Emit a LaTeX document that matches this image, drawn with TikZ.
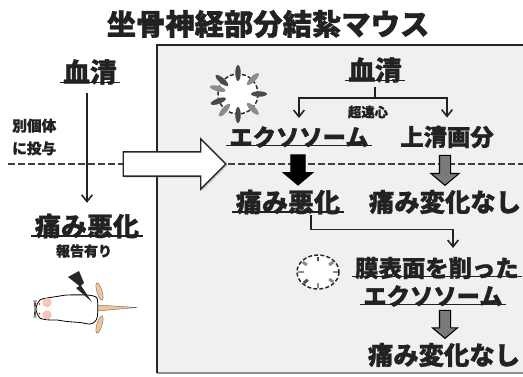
\documentclass[tikz,border=0pt]{standalone}
\usepackage{fontspec}
\setmainfont{Noto Sans CJK JP}[BoldFeatures={FakeBold=1.2}]
\usepackage{tikz}
\usetikzlibrary{arrows.meta,positioning,calc,shapes.arrows,shadows}
\usepackage{xcolor}
\definecolor{InkGray}{HTML}{222222}
\definecolor{PanelGray}{HTML}{F0F0F0}
\definecolor{ArrowGray}{HTML}{7A7A7A}
\definecolor{SpikeDark}{HTML}{4A4A4A}
\definecolor{SpikeLight}{HTML}{8C8C8C}
\definecolor{MouseTan}{HTML}{F3C49A}
\definecolor{EarPink}{HTML}{F7C3CE}

\begin{document}
\begin{tikzpicture}[x=0.75pt,y=-0.75pt,
  txt/.style={text=InkGray,inner xsep=2.5pt,inner ysep=0pt,font=\fontsize{#1}{#1}\selectfont\bfseries},
  uline/.style={append after command={([yshift=2pt]\tikzlastnode.south west) edge[draw=InkGray,line width=1.1pt] ([yshift=2pt]\tikzlastnode.south east)}},
  conn/.style={draw=InkGray,solid,line width=1.2pt,-{Straight Barb[length=5pt,width=8pt]}},
  downarrow/.style={single arrow,draw=black,line width=0.8pt,inner xsep=0pt,rotate=-90,
    minimum height=22.5pt,single arrow tip angle=100},
  spike/.style={fill=#1}]

\useasboundingbox (0,0) rectangle (523,376);
\fill[white] (0,0) rectangle (523,376);

% panel for the exosome experiment
\fill[PanelGray] (157,45) rectangle (523,373);
\draw[black!45,line width=0.8pt] (157,373) -- (523,373);
\draw[black!85,line width=0.9pt] (157,373) -- (157,45) -- (523,45);

\draw[black!75,line width=1pt,dash pattern=on 5pt off 2.5pt] (8,164) -- (523,164);

\node[txt=22] (title) at (268,24) {坐骨神経部分結紮マウス};

% left: serum transfer
\node[txt=20,uline] (serumL) at (90,72) {血清};
\node[txt=19.5,uline] (painL) at (87,226) {痛み悪化};
\node[txt=10.5] (report) at (84,251) {報告有り};
\node[text=InkGray,inner sep=0pt,align=left,anchor=west,font=\fontsize{11}{17}\selectfont\bfseries] (give) at (12,137) {別個体\\に投与};
\draw[conn,shorten <=6pt,shorten >=8pt] (painL.north |- serumL.south) -- (painL.north);

\node[single arrow,draw=black!85,fill=white,line width=1pt,inner xsep=0pt,inner ysep=8.6pt,
  minimum height=77pt,single arrow head extend=9.75pt,single arrow tip angle=90,
  drop shadow={opacity=0.3,shadow xshift=1.2pt,shadow yshift=-1.2pt}] (move) at (168.5,164) {};

% right: exosome vs supernatant
\node[txt=20,uline] (serumR) at (375,70) {血清};
\node[txt=17.5,uline] (exo) at (299,137) {エクソソーム};
\node[txt=17.5] (sup) at (447,137) {上清画分};
\node[txt=10] (ultra) at (368,112) {超遠心};
\coordinate (fork) at ($(serumR.south)+(0,15)$);
\draw[InkGray,line width=1.2pt,shorten <=3pt] (serumR.south) -- (fork);
\draw[conn,shorten >=6pt] (fork) -| (exo.north);
\draw[conn,shorten >=6pt] (fork) -| (sup.north);

\node[downarrow,fill=black,inner ysep=4.9pt,single arrow head extend=5.6pt] (worse) at (298,167) {};
\node[downarrow,fill=ArrowGray,inner ysep=3.75pt,single arrow head extend=6.4pt] (same1) at (445,168) {};

\node[txt=19.5,uline] (painR) at (288,202) {痛み悪化};
\node[txt=19] (nochange1) at (445,202) {痛み変化なし};

\node[txt=17.5,uline] (shaved) at (437,268) {膜表面を削った};
\node[txt=17.5,uline] (shavedexo) at (433,296) {エクソソーム};
\coordinate (bend) at ($(painR.south)+(23,15)$);
\draw[conn,shorten >=6.5pt] ([xshift=17.25pt]painR.south) -- (bend) -| ([xshift=12pt]shaved.north);
\node[downarrow,fill=ArrowGray,inner ysep=3.75pt,single arrow head extend=5.25pt,minimum height=21pt] (same2) at (445,322) {};
\node[txt=19] (nochange2) at (444,355) {痛み変化なし};

% exosome with surface proteins
\begin{scope}[shift={(238,94)}]
  \draw[black!85,fill=white,line width=1.1pt,dash pattern=on 3pt off 1.6pt] (0,0) circle [radius=20];
  \foreach \a/\c in {90/SpikeDark,45/SpikeLight,0/SpikeDark,-45/SpikeLight,-90/SpikeDark,
                     -130/SpikeLight,-160/SpikeDark,165/SpikeLight,140/SpikeDark}
    \fill[spike=\c,rotate=\a] (21,0) ellipse [x radius=8,y radius=2.7];
\end{scope}

% exosome with the surface shaved off
\begin{scope}[shift={(318,272)}]
  \draw[black!85,fill=white,line width=1.1pt,dash pattern=on 3pt off 1.6pt] (0,0) ellipse [x radius=21,y radius=17];
  \foreach \a/\c in {90/SpikeDark,40/SpikeLight,0/SpikeLight,-40/SpikeLight,-90/SpikeLight,
                     -135/SpikeDark,180/SpikeLight,140/SpikeLight}
    \draw[\c,line width=2.2pt] ({14.5*cos(\a)},{-11*sin(\a)}) -- ({20*cos(\a)},{-15.5*sin(\a)});
\end{scope}

% mouse seen from above
\fill[MouseTan,draw=black!60,line width=0.3pt] (97,305) -- (137,307.5) -- (97,311) -- cycle;
\fill[MouseTan,draw=black!60,line width=0.3pt,rotate around={-73:(99.5,291.5)}] (99.5,291.5) ellipse [x radius=9,y radius=2.6];
\fill[MouseTan,draw=black!60,line width=0.3pt,rotate around={73:(99.5,324.5)}] (99.5,324.5) ellipse [x radius=9,y radius=2.6];
\draw[fill=white,line width=0.6pt] plot[smooth cycle] coordinates {(36,309) (40,300) (50,297.5) (57,296.5) (67,295) (87,295)
  (95,296.5) (97.5,300) (97.5,316) (95,321.5) (90,324) (80,322.5) (67,321.5) (57,320) (50,320) (40,318)};
\fill[EarPink,draw=MouseTan,line width=0.8pt] (47,302.5) circle [radius=4];
\fill[EarPink,draw=MouseTan,line width=0.8pt] (47,315) circle [radius=4];
\fill[red] (39.5,304) circle [radius=0.9];
\fill[red] (39.5,313.5) circle [radius=0.9];
\draw[black!70,line width=0.6pt] (34,300) -- (36,318) (36,300) -- (34,318);
\fill[black!85] (68,277) -- (79,271) -- (84,283) -- (81,285.5) -- (92,302) -- (76,288) -- (79.5,286) -- cycle;
\end{tikzpicture}
\end{document}
